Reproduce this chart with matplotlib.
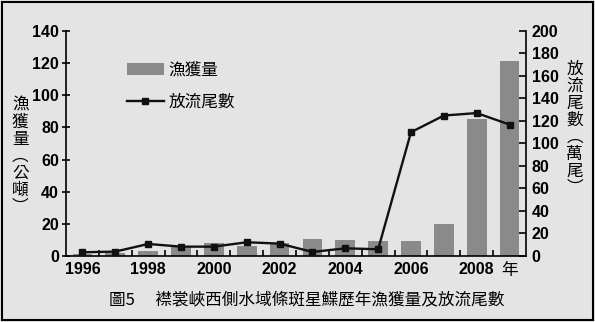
import matplotlib
matplotlib.use("Agg")
import matplotlib.pyplot as plt
from matplotlib.patches import Rectangle
import numpy as np

# data
years = list(range(1996, 2010))
catch_t = [1.2, 1.6, 3.3, 6.0, 8.0, 6.0, 8.3, 10.5, 10.0, 9.5, 9.5, 20.0, 85.3, 121.4]   # 公噸
release_10k = [3.3, 3.9, 10.7, 8.3, 8.3, 12.2, 11.0, 3.6, 6.8, 6.0, 110, 124.8, 127, 116.8]  # 萬尾
xlabels = ["1996", "", "1998", "", "2000", "", "2002", "", "2004", "", "2006", "", "2008", "年"]

BG = "#e4e4e4"
BAR = "#8a8a8a"
CJK = ["Noto Sans CJK TC", "DejaVu Sans"]
NUM = ["Liberation Sans", "Noto Sans CJK TC"]

fig = plt.figure(figsize=(5.95, 3.22), dpi=100, facecolor=BG)
ax = fig.add_axes([0.111, 0.205, 0.773, 0.699])
ax.set_facecolor(BG)
x = np.arange(len(years))

bars = ax.bar(x, catch_t, width=0.6, color=BAR, zorder=2, label="漁獲量")
ax.set_ylim(0, 140)
ax.set_xlim(-0.5, len(years) - 0.5)
ax.set_yticks(range(0, 141, 20))

ax2 = ax.twinx()
line, = ax2.plot(x, release_10k, color="#111111", lw=1.7, marker="s", ms=5,
                 zorder=3, label="放流尾數")
ax2.set_ylim(0, 200)
ax2.set_yticks(range(0, 201, 20))

for a in (ax, ax2):
    a.spines["top"].set_visible(False)
ax.spines["right"].set_visible(False)
ax2.spines["left"].set_visible(False)
for s in ("left", "bottom"):
    ax.spines[s].set_linewidth(1.2)
ax2.spines["right"].set_linewidth(1.2)
ax2.spines["bottom"].set_visible(False)

ax.tick_params(axis="y", direction="inout", length=6, width=1.2, pad=2)
ax2.tick_params(axis="y", direction="in", length=5, width=1.2, pad=4)
ax.set_xticks(x)
ax.set_xticklabels(xlabels)
ax.tick_params(axis="x", length=0, pad=4)
ax.set_xticks(np.arange(0.5, len(years) - 0.5, 1), minor=True)
ax.tick_params(axis="x", which="minor", direction="in", length=4, width=1.2)

for lab in ax.get_yticklabels() + ax2.get_yticklabels():
    lab.set_family(NUM)
    lab.set_fontweight("bold")
    lab.set_fontsize(11.5)
for lab in ax.get_xticklabels():
    lab.set_family(NUM)
    lab.set_fontweight("bold")
    lab.set_fontsize(11.5)
ax.get_xticklabels()[-1].set_family(CJK)
ax.get_xticklabels()[-1].set_fontweight("normal")
ax.get_xticklabels()[-1].set_fontsize(12)

ax.set_zorder(ax2.get_zorder() - 1)
ax.patch.set_visible(True)
ax2.patch.set_visible(False)

leg = ax2.legend([bars, line], ["漁獲量", "放流尾數"], loc="upper left",
                 bbox_to_anchor=(0.10, 0.93), frameon=False,
                 prop={"family": CJK, "size": 12}, handlelength=2.2,
                 labelspacing=0.9, handletextpad=0.3)

fig.text(0.034, 0.515, "漁\n獲\n量\n︵\n公\n噸\n︶", family=CJK, fontsize=12,
         ha="center", va="center", linespacing=1.0)
fig.text(0.966, 0.6, "放\n流\n尾\n數\n︵\n萬\n尾\n︶", family=CJK, fontsize=12,
         ha="center", va="center", linespacing=1.0)

fig.text(0.515, 0.068, "圖5　 襟裳峽西側水域條斑星鰈歷年漁獲量及放流尾數",
         family=["Noto Sans CJK TC", "DejaVu Sans"], fontsize=12,
         ha="center", va="center")

fig.patches.append(Rectangle((0.004, 0.006), 0.992, 0.988, transform=fig.transFigure,
                             fill=False, edgecolor="black", linewidth=1.5))

fig.savefig("out.png", dpi=100, facecolor=BG)
